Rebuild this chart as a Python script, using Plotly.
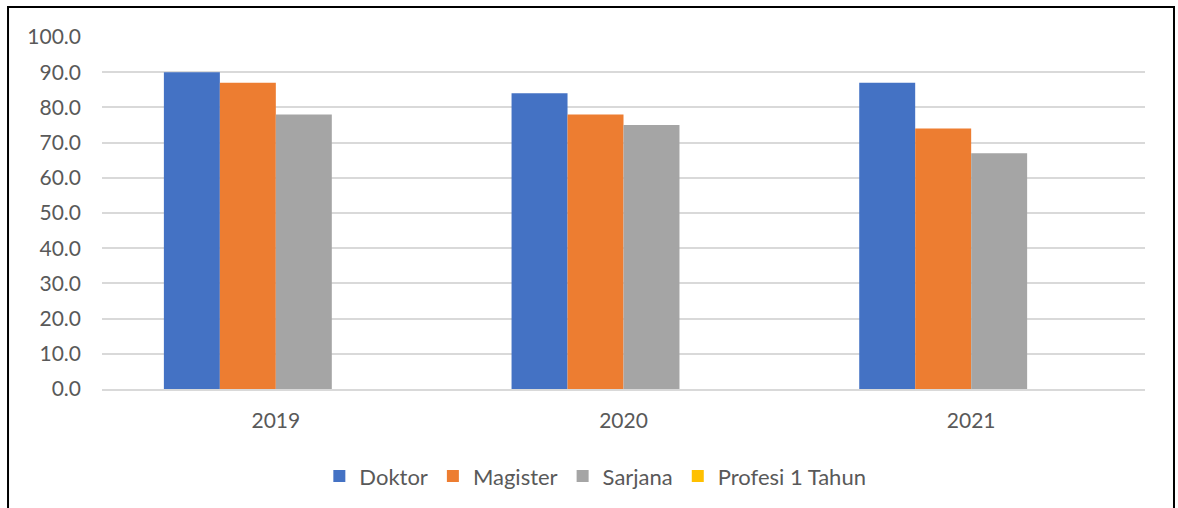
import plotly.graph_objects as go

years = ["2019", "2020", "2021"]
series_names = ["Doktor", "Magister", "Sarjana", "Profesi 1 Tahun"]
doktor = [90, 84, 87]
magister = [87, 78, 74]
sarjana = [78, 75, 67]
profesi = [0, 0, 0]
y_ticks = [0, 10, 20, 30, 40, 50, 60, 70, 80, 90, 100]

colors = ["#4472C4", "#ED7D31", "#A5A5A5", "#FFC000"]
font = "Lato, 'Open Sans', sans-serif"

fig = go.Figure()
for name, vals, col in zip(series_names, [doktor, magister, sarjana, profesi], colors):
    fig.add_trace(go.Bar(
        x=years, y=vals, name=name,
        marker=dict(color=col, line=dict(width=0)),
    ))

fig.update_layout(
    width=1178, height=508,
    margin=dict(l=102, r=33, t=37, b=118),
    paper_bgcolor="white", plot_bgcolor="white",
    barmode="group", bargap=0.356, bargroupgap=0,
    font=dict(family=font, color="#595959", size=21),
    showlegend=True,
    legend=dict(
        orientation="h", x=0.473, xanchor="center", y=-0.244, yanchor="middle",
        font=dict(size=22, color="#595959"), itemwidth=30,
        traceorder="normal",
    ),
    shapes=[dict(
        type="rect", xref="paper", yref="paper",
        x0=-0.0901, x1=1.0278, y0=-0.35, y1=1.085,
        line=dict(color="black", width=2), fillcolor="rgba(0,0,0,0)",
        layer="below",
    )],
)

fig.update_yaxes(
    range=[0, 100], tickvals=y_ticks, tickformat=".1f",
    showgrid=True, gridcolor="#D9D9D9", gridwidth=1.5,
    zeroline=False, showline=False, ticks="",
    ticklabelstandoff=20, tickfont=dict(size=21, color="#595959"),
)
fig.update_xaxes(
    showline=True, linecolor="#D9D9D9", linewidth=1.5,
    showgrid=False, ticks="", ticklabelstandoff=12,
    tickfont=dict(size=21, color="#595959"),
)

fig.write_html("out.html", config={"displayModeBar": False},
               post_script="document.body.style.margin='0';")
